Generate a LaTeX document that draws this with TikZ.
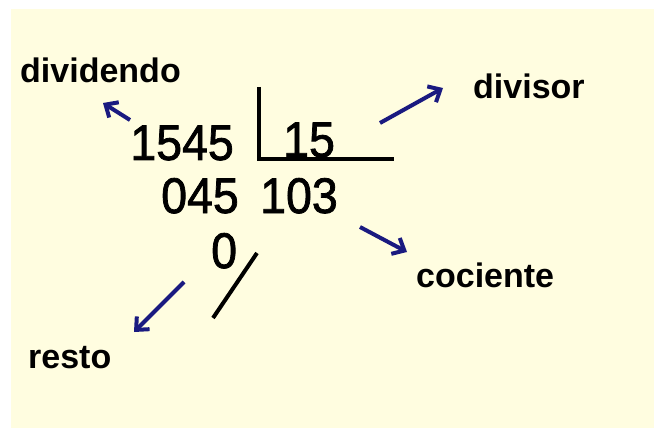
\documentclass[tikz,border=0pt]{standalone}
\usepackage{fontspec}
\setmainfont{Liberation Sans}
\newfontfamily\numfont{Liberation Sans}[BoldFont={Liberation Sans}, BoldFeatures={FakeBold=1.6}]
\usetikzlibrary{arrows.meta}
\definecolor{cream}{RGB}{255,253,224}
\definecolor{navy}{RGB}{26,26,128}
\tikzset{
  lbl/.style={inner sep=0pt, anchor=base west, font=\fontsize{34}{40}\selectfont\bfseries},
  num/.style={inner sep=0pt, font=\fontsize{50}{60}\numfont\bfseries},
  bar/.style={line width=4pt, black},
  pointer/.style={line width=4pt, navy, -{Straight Barb[length=10pt,width=18pt,line width=4pt]}},
}
\newcommand{\nscale}[1]{\scalebox{0.93}[1]{#1}}
\begin{document}
\begin{tikzpicture}[x=1pt,y=-1pt]
\useasboundingbox (0,0) rectangle (654,428);
\fill[white] (0,0) rectangle (654,428);
\fill[cream] (11,9) rectangle (654,428);
% labels
\node[lbl] (dividendo) at (20,83) {dividendo};
\node[lbl] (divisor) at (473,99) {divisor};
\node[lbl] (cociente) at (416,287) {cociente};
\node[lbl] (resto) at (28,368) {resto};
% numbers
\node[num, anchor=base east] (n1545) at (234,160) {\nscale{1545}};
\node[num, anchor=base west] (n15) at (283,157) {\nscale{15}};
\node[num, anchor=base east] (n045) at (239,213) {\nscale{045}};
\node[num, anchor=base west] (n103) at (260,213) {\nscale{103}};
\node[num, anchor=base west] (n0) at (211,268) {\nscale{0}};
% division bracket
\coordinate (bt) at (259,87);
\coordinate (bc) at (259,159);
\coordinate (br) at (394,159);
\draw[bar] (bt) -- (bc) -- (br);
% slash
\coordinate (s1) at (257,253);
\coordinate (s2) at (213,318);
\draw[bar] (s1) -- (s2);
% arrows
\coordinate (a1s) at (130,120);
\coordinate (a1e) at (103,103);
\coordinate (a2s) at (380,123);
\coordinate (a2e) at (443,88);
\coordinate (a3s) at (360,227);
\coordinate (a3e) at (407,252);
\coordinate (a4s) at (184,282);
\coordinate (a4e) at (134,332);
\draw[pointer] (a1s) -- (a1e);
\draw[pointer] (a2s) -- (a2e);
\draw[pointer] (a3s) -- (a3e);
\draw[pointer] (a4s) -- (a4e);
\end{tikzpicture}
\end{document}
